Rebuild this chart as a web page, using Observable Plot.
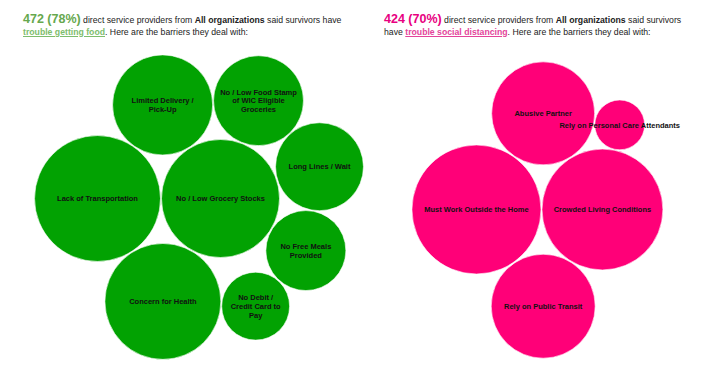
<!DOCTYPE html>
<html>
<head>
<meta charset="utf-8">
<script src="https://cdn.jsdelivr.net/npm/d3@7"></script>
<script src="https://cdn.jsdelivr.net/npm/@observablehq/plot@0.6"></script>
<style>
  html, body { margin: 0; padding: 0; background: #fff; }
  #page { position: relative; width: 702px; height: 366px; overflow: hidden; font-family: Arial, "Liberation Sans", sans-serif; }
  .head { position: absolute; top: 0; height: 40px; box-sizing: border-box; padding-top: 12.5px; font-size: 8.7px; line-height: 12px; color: #222; white-space: nowrap; }
  .num { font-size: 12.5px; font-weight: bold; }
  .link { text-decoration: underline; font-weight: bold; }
  #chart { position: absolute; top: 40px; left: 0; }
</style>
</head>
<body>
<div id="page">
  <div class="head" id="headL" style="left:23px"></div>
  <div class="head" id="headR" style="left:384px"></div>
  <div id="chart"></div>
</div>
<script>
// ---- data ----
const greenLabels = [
  "Lack of Transportation",
  "No / Low Grocery Stocks",
  "Concern for Health",
  "Limited Delivery /\nPick-Up",
  "No / Low Food Stamp\nof WIC Eligible\nGroceries",
  "Long Lines / Wait",
  "No Free Meals\nProvided",
  "No Debit /\nCredit Card to\nPay"
];
const greenValues = [320, 281, 271, 202, 163, 156, 129, 93];

const pinkLabels = [
  "Must Work Outside the Home",
  "Crowded Living Conditions",
  "Rely on Public Transit",
  "Abusive Partner",
  "Rely on Personal Care Attendants"
];
const pinkValues = [336, 295, 218, 214, 50];

const headerCounts = ["472 (78%)", "424 (70%)"];
const headerTopics = ["trouble getting food", "trouble social distancing"];

// ---- headers ----
document.getElementById("headL").innerHTML =
  `<span class="num" style="color:#66a84e">${headerCounts[0]}</span> direct service providers from <b>All organizations</b> said survivors have<br>` +
  `<span class="link" style="color:#7dbd6c">${headerTopics[0]}</span>. Here are the barriers they deal with:`;
document.getElementById("headR").innerHTML =
  `<span class="num" style="color:#e8007f">${headerCounts[1]}</span> direct service providers from <b>All organizations</b> said survivors<br>` +
  `have <span class="link" style="color:#e3449b">${headerTopics[1]}</span>. Here are the barriers they deal with:`;

// ---- circle packing (front-chain spiral packing, first pair tangent at the origin) ----
function place(b, a, c) {
  const dx = b.x - a.x, dy = b.y - a.y, d2 = dx * dx + dy * dy;
  if (d2) {
    let a2 = a.r + c.r; a2 *= a2;
    let b2 = b.r + c.r; b2 *= b2;
    if (a2 > b2) {
      const x = (d2 + b2 - a2) / (2 * d2);
      const y = Math.sqrt(Math.max(0, b2 / d2 - x * x));
      c.x = b.x - x * dx - y * dy;
      c.y = b.y - x * dy + y * dx;
    } else {
      const x = (d2 + a2 - b2) / (2 * d2);
      const y = Math.sqrt(Math.max(0, a2 / d2 - x * x));
      c.x = a.x + x * dx - y * dy;
      c.y = a.y + x * dy + y * dx;
    }
  } else {
    c.x = a.x + c.r;
    c.y = a.y;
  }
}
function intersects(a, b) {
  const dr = a.r + b.r - 1e-6, dx = b.x - a.x, dy = b.y - a.y;
  return dr > 0 && dr * dr > dx * dx + dy * dy;
}
function mk(circle) { return {_: circle, next: null, previous: null}; }
function packCircles(circles) {
  const n = circles.length;
  let a = circles[0], b, c;
  a.x = 0; a.y = 0;
  if (n < 2) return circles;
  b = circles[1];
  a.x = -a.r; b.x = b.r; b.y = 0;
  if (n < 3) return circles;
  place(b, a, c = circles[2]);
  a = mk(a); b = mk(b); c = mk(c);
  a.next = c.previous = b;
  b.next = a.previous = c;
  c.next = b.previous = a;
  pack: for (let i = 3; i < n; ++i) {
    place(a._, b._, c = circles[i]); c = mk(c);
    let j = b.next, k = a.previous, sj = b._.r, sk = a._.r;
    do {
      if (sj <= sk) {
        if (intersects(j._, c._)) { b = j; a.next = b; b.previous = a; --i; continue pack; }
        sj += j._.r; j = j.next;
      } else {
        if (intersects(k._, c._)) { a = k; a.next = b; b.previous = a; --i; continue pack; }
        sk += k._.r; k = k.previous;
      }
    } while (j !== k.next);
    // insert c between a and b, then keep wrapping around b
    c.previous = a; c.next = b; a.next = b.previous = c;
    a = c;
  }
  return circles;
}

const W = 702, H = 326;
const K = 3.52, PAD = 0.5;
function layout(labels, values, center, color) {
  const nodes = labels.map((label, i) => ({label, value: values[i], r: K * Math.sqrt(values[i]) + PAD}));
  nodes.sort((a, b) => b.value - a.value);
  packCircles(nodes);
  return nodes.map(n => ({label: n.label, value: n.value, x: n.x + center[0], y: n.y + center[1], r: n.r - PAD, color}));
}
const data = [
  ...layout(greenLabels, greenValues, [160.5, 158], "#02a202"),
  ...layout(pinkLabels, pinkValues, [541, 169], "#ff0078")
];

const chart = Plot.plot({
  width: W,
  height: H,
  margin: 0,
  style: {fontFamily: "Arial, 'Liberation Sans', sans-serif", background: "white"},
  x: {domain: [0, W], range: [0, W], axis: null},
  y: {domain: [0, H], range: [0, H], axis: null},
  r: {type: "linear", domain: [0, 100], range: [0, 100]},
  color: {type: "identity"},
  marks: [
    Plot.dot(data, {x: "x", y: "y", r: "r", fill: "color", stroke: "white", strokeWidth: 0.6}),
    Plot.text(data, {x: "x", y: "y", text: "label", fontSize: 7.5, fontWeight: "bold", fill: "#111", lineHeight: 1.15, fontFamily: "Arial, 'Liberation Sans', sans-serif"})
  ]
});
document.getElementById("chart").appendChild(chart);
</script>
</body>
</html>
